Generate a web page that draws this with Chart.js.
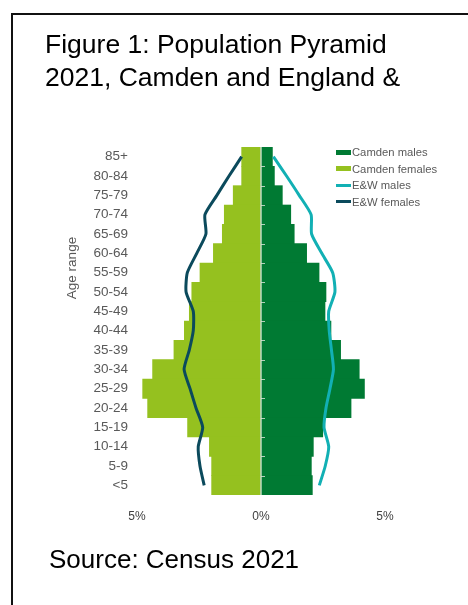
<!DOCTYPE html>
<html>
<head>
<meta charset="utf-8">
<script src="https://cdn.jsdelivr.net/npm/chart.js@4"></script>
<style>
  html, body { margin: 0; padding: 0; background: #fff; }
  body { width: 468px; height: 605px; position: relative; overflow: hidden; font-family: "Liberation Sans", Arial, sans-serif; }
  #frame { position: absolute; left: 11px; top: 13px; width: 480px; height: 620px; border-left: 2.5px solid #111; border-top: 2.5px solid #111; }
  #chart { position: absolute; left: 0; top: 0; }
  .title { position: absolute; left: 45px; top: 28px; font-size: 26.5px; line-height: 32.5px; color: #000; white-space: nowrap; }
  .source { position: absolute; left: 49px; top: 544px; font-size: 26px; line-height: 30px; color: #000; white-space: nowrap; }
  .ylabel { position: absolute; left: 32px; top: 260px; width: 80px; height: 16px; line-height: 16px; text-align: center;
            font-size: 13.5px; color: #595959; transform: rotate(-90deg); white-space: nowrap; }
  .legend { position: absolute; left: 336px; top: 144px; font-size: 11.25px; color: #595959; }
  .legend div { height: 16.5px; display: flex; align-items: center; white-space: nowrap; }
  .legend span.sw { display: inline-block; width: 15px; margin-right: 1px; }
</style>
</head>
<body>
<div id="frame"></div>
<canvas id="chart" width="468" height="605"></canvas>
<div class="title">Figure 1: Population Pyramid<br>2021, Camden and England &amp;</div>
<div class="ylabel">Age range</div>
<div class="legend" id="legend"></div>
<div class="source">Source: Census 2021</div>
<script>
// Age bands, top to bottom
const ages = ["85+", "80-84", "75-79", "70-74", "65-69", "60-64", "55-59", "50-54", "45-49",
  "40-44", "35-39", "30-34", "25-29", "20-24", "15-19", "10-14", "5-9", "<5"];

// % of population in each band
const camdenMales = [0.46, 0.54, 0.86, 1.20, 1.34, 1.84, 2.34, 2.62, 2.58,
  2.82, 3.21, 3.96, 4.17, 3.63, 2.49, 2.11, 2.03, 2.07];
const camdenFemales = [0.78, 0.78, 1.12, 1.48, 1.56, 1.92, 2.46, 2.79, 2.89,
  3.09, 3.51, 4.37, 4.77, 4.57, 2.96, 2.08, 1.99, 1.99];
const ewMales = [0.50, 1.03, 1.54, 2.02, 2.04, 2.45, 2.89, 2.98, 2.73,
  2.75, 2.84, 2.92, 2.78, 2.62, 2.54, 2.73, 2.59, 2.35];
const ewFemales = [0.78, 1.29, 1.78, 2.26, 2.22, 2.59, 2.97, 3.02, 2.73,
  2.73, 2.89, 3.10, 2.86, 2.62, 2.35, 2.53, 2.46, 2.29];

const xTicks = [-5, 0, 5];

const colours = {
  camdenMales: "#007a33",
  camdenFemales: "#95c11f",
  ewMales: "#12b0b4",
  ewFemales: "#0b4a5c"
};

// thin light line down the middle, with little ticks between bands
const centreLine = {
  id: "centreLine",
  afterDatasetsDraw(chart) {
    const ctx = chart.ctx;
    const x = chart.scales.x;
    const y = chart.scales.y;
    const x0 = x.getPixelForValue(0);
    const half = (y.getPixelForValue(1) - y.getPixelForValue(0)) / 2;
    ctx.save();
    ctx.strokeStyle = "#eef2ea";
    ctx.lineWidth = 1.2;
    ctx.beginPath();
    ctx.moveTo(x0, chart.chartArea.top);
    ctx.lineTo(x0, chart.chartArea.bottom);
    ctx.stroke();
    ctx.strokeStyle = "rgba(220,230,220,0.8)";
    ctx.lineWidth = 1;
    for (let i = 1; i < ages.length; i++) {
      const yy = Math.round(y.getPixelForValue(i) - half) + 0.5;
      ctx.beginPath();
      ctx.moveTo(x0, yy);
      ctx.lineTo(x0 + 4, yy);
      ctx.stroke();
    }
    ctx.restore();
  }
};

const chart = new Chart(document.getElementById("chart"), {
  type: "bar",
  data: {
    labels: ages,
    datasets: [
      {
        label: "Camden males",
        data: camdenMales,
        backgroundColor: colours.camdenMales,
        barPercentage: 1,
        categoryPercentage: 1,
        order: 1
      },
      {
        label: "Camden females",
        data: camdenFemales.map(v => -v),
        backgroundColor: colours.camdenFemales,
        barPercentage: 1,
        categoryPercentage: 1,
        order: 1
      },
      {
        type: "line",
        label: "E&W males",
        data: ewMales,
        borderColor: colours.ewMales,
        borderWidth: 3,
        pointRadius: 0,
        tension: 0.2,
        fill: false,
        order: 0
      },
      {
        type: "line",
        label: "E&W females",
        data: ewFemales.map(v => -v),
        borderColor: colours.ewFemales,
        borderWidth: 3,
        pointRadius: 0,
        tension: 0.2,
        fill: false,
        order: 0
      }
    ]
  },
  options: {
    indexAxis: "y",
    responsive: false,
    animation: false,
    layout: { padding: { top: 147, right: 78, bottom: 70, left: 0 } },
    plugins: {
      legend: { display: false },
      tooltip: { enabled: false }
    },
    scales: {
      x: {
        min: -5.2,
        max: 5.2,
        grid: { display: false, drawTicks: false },
        border: { display: false },
        afterBuildTicks: function (scale) {
          scale.ticks = xTicks.map(v => ({ value: v }));
        },
        afterFit: function (scale) { scale.height = 40; },
        ticks: {
          padding: 14,
          color: "#404040",
          font: { family: "Liberation Sans", size: 12 },
          callback: v => Math.abs(v) + "%"
        }
      },
      y: {
        stacked: true,
        grid: { display: false, drawTicks: false },
        border: { display: false },
        afterFit: function (scale) { scale.width = 132; },
        ticks: {
          padding: 4,
          color: "#595959",
          font: { family: "Liberation Sans", size: 13.5 },
          autoSkip: false
        }
      }
    }
  },
  plugins: [centreLine]
});

// legend drawn as html, same order as the datasets
const legendEl = document.getElementById("legend");
chart.data.datasets.forEach(function (ds) {
  const row = document.createElement("div");
  const sw = document.createElement("span");
  sw.className = "sw";
  if (ds.type === "line") {
    sw.style.height = "3px";
    sw.style.background = ds.borderColor;
  } else {
    sw.style.height = "5px";
    sw.style.background = ds.backgroundColor;
  }
  row.appendChild(sw);
  row.appendChild(document.createTextNode(ds.label));
  legendEl.appendChild(row);
});
</script>
</body>
</html>
